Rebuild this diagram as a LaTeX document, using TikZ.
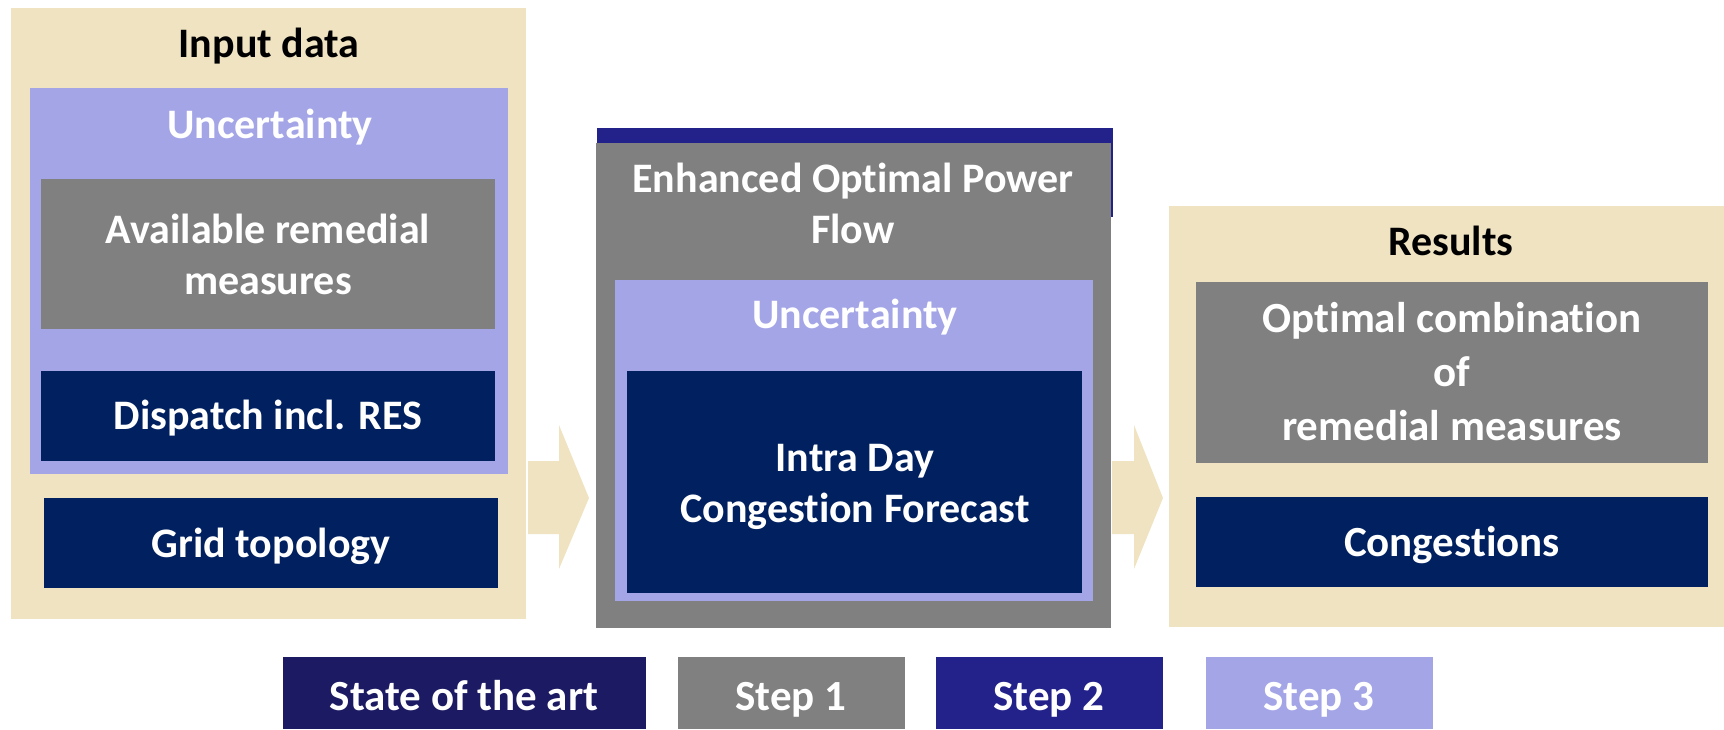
\documentclass[tikz,border=0pt]{standalone}
\usepackage{fontspec}
\setmainfont{Carlito}[Ligatures={NoCommon}]
\usepackage{tikz}

\definecolor{sand}{HTML}{EFE3C1}
\definecolor{lavender}{HTML}{A4A5E6}
\definecolor{stepgray}{HTML}{808080}
\definecolor{navy}{HTML}{00205F}
\definecolor{stepblue}{HTML}{22228A}
\definecolor{artblue}{HTML}{1C1A63}

\tikzset{
	lbl/.style={anchor=base, align=center, inner sep=0pt, text=white,
		font=\bfseries\fontsize{42}{51}\selectfont},
	biglbl/.style={lbl, font=\bfseries\fontsize{43}{54}\selectfont},
	head/.style={lbl, text=black}
}

\begin{document}
\begin{tikzpicture}[x=1pt, y=-1pt]
				\useasboundingbox (0,0) rectangle (1724,729);
				% input data
				\path[fill=sand] (11,8) rectangle (526,619);
				\path[fill=lavender] (30,88) rectangle (508,474);
				\path[fill=stepgray] (41,179) rectangle (495,329);
				\path[fill=navy] (41,371) rectangle (495,461);
				\path[fill=navy] (44,498) rectangle (498,588);
				\node[head] (inputlbl) at (269,57) {Input data};
				\node[lbl] (uncleft) at (270,138) {Uncertainty};
				\node[lbl] (remlbl) at (268,294) {Available remedial\\measures};
				\node[lbl] (displbl) at (268,429) {Dispatch incl. RES};
				\node[lbl] (gridlbl) at (271,557) {Grid topology};
				% first arrow
				\coordinate (A0) at (528,461);
				\coordinate (A1) at (559,461);
				\coordinate (A2) at (559,425);
				\coordinate (A3) at (589,498);
				\coordinate (A4) at (559,569);
				\coordinate (A5) at (559,534);
				\coordinate (A6) at (528,534);
				\path[fill=sand] (A0) -- (A1) -- (A2) -- (A3) -- (A4) -- (A5) -- (A6) -- cycle;
				% enhanced optimal power flow
				\path[fill=stepblue] (597,128) rectangle (1113,217);
				\path[fill=stepgray] (596,143) rectangle (1111,628);
				\path[fill=lavender] (615,280) rectangle (1093,601);
				\path[fill=navy] (627,371) rectangle (1082,593);
				\node[lbl] (opflbl) at (853,243) {Enhanced Optimal Power\\Flow};
				\node[lbl] (uncmid) at (855,328) {Uncertainty};
				\node[lbl] (fclbl) at (855,522) {Intra Day\\Congestion Forecast};
				% second arrow
				\coordinate (B0) at (1112,461);
				\coordinate (B1) at (1134,461);
				\coordinate (B2) at (1134,425);
				\coordinate (B3) at (1163,498);
				\coordinate (B4) at (1134,569);
				\coordinate (B5) at (1134,534);
				\coordinate (B6) at (1112,534);
				\path[fill=sand] (B0) -- (B1) -- (B2) -- (B3) -- (B4) -- (B5) -- (B6) -- cycle;
				% results
				\path[fill=sand] (1169,206) rectangle (1724,627);
				\path[fill=stepgray] (1196,282) rectangle (1708,463);
				\path[fill=navy] (1196,497) rectangle (1708,587);
				\node[head] (reslbl) at (1451,255) {Results};
				\node[biglbl] (optlbl) at (1452,440) {Optimal combination\\of\\remedial measures};
				\node[biglbl] (conglbl) at (1452,556) {Congestions};
				% legend
				\path[fill=artblue] (283,657) rectangle (646,729);
				\path[fill=stepgray] (678,657) rectangle (905,729);
				\path[fill=stepblue] (936,657) rectangle (1163,729);
				\path[fill=lavender] (1206,657) rectangle (1433,729);
				\node[biglbl] (artlbl) at (464,710) {State of the art};
				\node[biglbl] (s1lbl) at (791,710) {Step 1};
				\node[biglbl] (s2lbl) at (1049,710) {Step 2};
				\node[biglbl] (s3lbl) at (1319,710) {Step 3};
				\end{tikzpicture}
\end{document}
